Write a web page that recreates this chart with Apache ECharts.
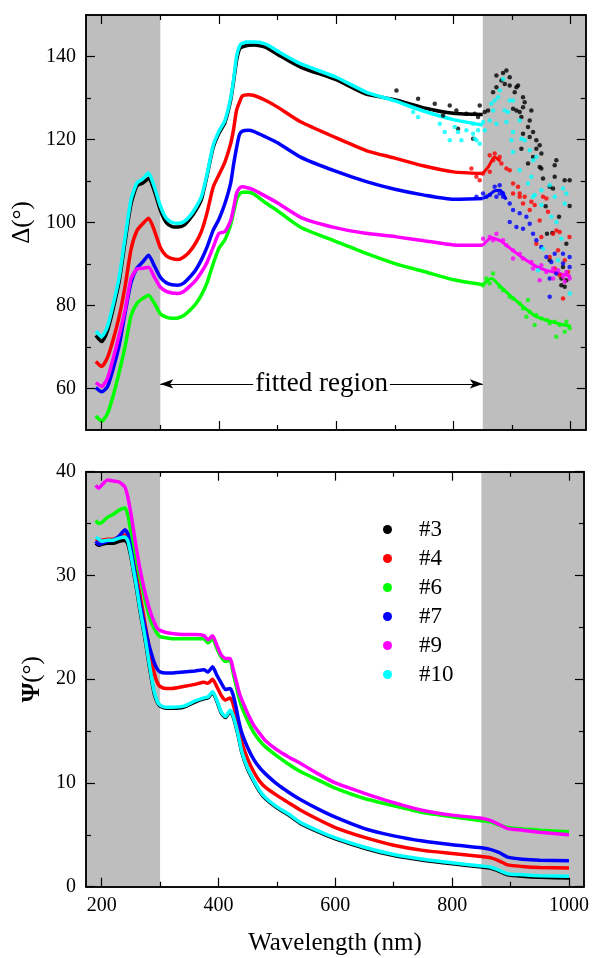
<!DOCTYPE html>
<html>
<head>
<meta charset="utf-8">
<script src="https://cdn.jsdelivr.net/npm/echarts@6/dist/echarts.min.js"></script>
<style>
html, body { margin: 0; padding: 0; background: #fff; }
#chart { width: 592px; height: 958px; }
</style>
</head>
<body>
<div id="chart"></div>
<script>
// Delta / Psi spectra, two stacked panels

const FONT = 'Liberation Serif';
const X_MIN = 173.2, X_MAX = 1025.6;

const samples = ['#3', '#4', '#6', '#7', '#9', '#10'];
const colors = ['#000000', '#ff0000', '#00ff00', '#0000ff', '#ff00ff', '#00ffff'];

const xMajor = [200, 400, 600, 800, 1000];
const xMinor = [300, 500, 700, 900];
const deltaMajor = [60, 80, 100, 120, 140];
const deltaMinor = [70, 90, 110, 130];
const psiMajor = [0, 10, 20, 30, 40];
const psiMinor = [5, 15, 25, 35];

const fitStart = 300, fitEnd = 850; // fitted region limits (nm)

// top panel, Delta (deg)
const wlTop = [190,200,210,220,230,240,250,260,270,280,290,300,310,320,330,340,350,360,370,380,390,400,410,420,425,430,435,440,450,460,480,500,540,600,650,700,750,800,850];
const delta3 = [72.8,71.3,74,79.5,86,95.5,104.5,108.8,109.5,110.6,107.5,103,100,99,98.9,99.3,100.8,102.8,105.5,111.5,118,121.5,124,129.5,134,139,141.8,142.3,142.7,142.8,142.2,140.5,137.4,134.4,131,129.6,127.6,126.3,126];
const delta4 = [66.5,65.3,67.5,72,77.5,84.7,93.5,98,99.7,101,98,94,92,91.3,91.1,91.7,93,95,97.8,102.5,108.5,111.5,114.5,119,122.5,127,129,130.5,130.8,130.6,129.4,127.8,124.2,120.4,117.4,115.5,113.6,112.2,111.8];
const delta6 = [53.4,52.1,54,58.5,64,70.2,77.5,80.5,81.7,82.5,80.5,78,77.2,76.9,77,77.6,78.8,80.3,82.5,85.6,90,93.8,95.8,99.5,102.5,105.5,106.8,107.3,107.3,106.8,104.7,102.8,98.8,95.4,92.6,90.1,88.2,86.2,85];
const delta7 = [60.2,59.2,60.5,65,70.5,78.3,85.5,89,90.5,92.1,89.5,86.8,85.5,85,84.9,85.4,86.8,88.5,91,94.2,98.1,100.8,104.5,109.5,114,118,121.2,122,122.2,121.9,120.6,119.2,115.7,112.3,109.9,108,106.6,105.6,105.8];
const delta9 = [61.4,60.5,62.5,67.5,73,79,86.5,88.8,89,89.2,86.8,84.4,83.4,83,82.9,83.4,84.6,86,88,90.5,94,97.4,97.8,100.5,103.5,107,108.3,108.6,108.3,107.8,106.3,104.7,101.2,98.7,97.4,96.6,95.6,94.6,94.5];
const delta10 = [73.8,72.5,75,80.5,87,96.5,105.5,109.5,110.5,111.9,108.5,104,101,100,99.8,100.2,101.5,103.5,106.2,111.8,118.5,122,124.5,130,134.5,140,142.5,143.2,143.5,143.5,143,141.3,138.2,135,131.5,129.3,126.8,124.8,123.5];

// coherent bands continuing into the right shaded area
const tail4Wl = [850, 860, 870, 880];
const tail4 = [111.8, 113.5, 115.8, 114.8];
const tail7Wl = [850, 860, 870, 880, 890];
const tail7 = [105.8, 106.5, 107.6, 107.8, 105.5];
const tail6Wl = [850, 865, 880, 900, 920, 940, 960, 980, 1000];
const tail6 = [85, 86.5, 84.6, 82, 79.6, 77.4, 76.4, 75.6, 75];
const tail9Wl = [850, 865, 880, 900, 920, 940, 960, 980, 1000];
const tail9 = [94.5, 96.3, 95.6, 93.4, 91.3, 89.5, 88.4, 87.8, 87];

// scattered (noisy) points, long wavelength end
const noise3Wl = [702.8,739.7,768.1,782.3,793.7,805,807.9,822.1,833.5,844.8,836.3,842,853.4,859,867.6,873.3,873.3,881.8,884.6,887.5,890.3,896,896,901.7,904.5,907.4,907.4,910.2,913,915.9,915.9,918.7,918.7,918.7,921.5,927.2,927.2,930.1,930.1,932.9,935.8,935.8,941.4,941.4,947.1,947.1,950,950,952.8,957.3,959.6,964.2,964.2,968.7,969.9,972.7,972.7,975.5,980.1,984.1,984.1,986.9,989.7,989.8,992.6,992.6,998.2,998.2];
const noise3Val = [131.8,129.8,128.6,125.8,128.2,127,122.6,126.2,120.2,128.2,126.2,125.4,126.6,127,131.4,135.4,132.6,134.2,136,133.4,136.6,135,133,127.4,131.4,132.6,127,133,126.6,125.4,117.8,130.2,127.8,121.4,129,123,114.2,124.6,120.6,127,121.8,115.8,119.8,117.8,118.6,113.4,116.6,113,110.6,103.9,97.3,108.6,90.9,97.5,108.2,113.8,111,115,101.4,86.5,84.9,89.3,110.2,84.5,94.9,86.1,110.2,104];
const noise4Wl = [830.6,839.2,844.8,850.5,861.9,861.9,867.6,870.4,878.9,881.8,890.3,896,901.7,901.7,910.2,913,913,918.7,921.5,930.1,932.9,938.6,941.4,947.1,949.9,952.8,958.5,961.3,964.2,969.9,972.7,975.5,978.4,981.2,981.2,986.9,989.8,995.4,998];
const noise4Val = [113,111,110.2,111.8,112.2,116.2,115,116.6,115.8,114.2,113,112.6,109.4,107,108.6,107,106.2,104.6,106.2,103,105,104.2,94.9,100.5,96.5,106.2,105.8,102.6,91.7,97.3,88.9,98.1,93.3,97.7,87.3,81.7,90.9,88.1,96.5];
const noise6Wl = [850.5,856.2,861.9,867.6,878.9,884.6,896,901.7,913,918.7,924.4,927.2,930.1,938.6,941.4,949.9,958.5,964.2,972.7,975.5,981.2,989.8,992.6,998.3];
const noise6Val = [84.9,86.5,85.3,87.7,84.5,83.7,82.1,81.7,80.5,79.3,77.3,81.3,78.5,75.3,77.7,76.9,76.5,75.7,76.1,72.5,75.3,73.7,76.1,74.5];
const noise7Wl = [839.2,850.5,856.2,861.9,870.4,873.3,878.9,878.9,884.6,884.6,896,896,901.7,907.4,913,918.7,924.4,930.1,935.8,941.4,949.9,958.5,964.2,964.2,967,972.7,975.5,986.9,986.9,998.2,998.2];
const noise7Val = [106.2,107,106.2,106.6,108.6,106.2,109,107,107,106.2,104.6,100.1,103,98.9,102.2,98.5,101.4,99.7,97.3,95.7,94.1,91.7,86.5,82.1,90.5,92.5,87.7,92.5,90.1,91.7,89.3];
const noise9Wl = [850.5,861.9,867.6,873.3,884.6,890.3,901.7,901.7,913,918.7,932.9,935.8,947.1,949.9,958.5,969.9,969.9,978.4,986.9,989.8,992.6,998.2];
const noise9Val = [96.1,96.5,95.7,97.3,95.7,94.5,93.3,91.3,92.5,91.3,90.5,88.9,86.1,89.7,88.1,88.9,86.5,88.5,86.9,85.7,88.1,86.5];
const noise10Wl = [731.2,739.7,776.7,785.2,793.7,802.2,807.9,813.6,822.1,833.5,839.2,844.8,833.5,836.3,842,850.5,853.4,861.9,864.7,867.6,870.4,873.3,876.1,879,884.6,887.5,890.3,893.1,896,898.9,901.7,901.7,901.7,913,913,915.9,921.5,927.2,930.1,932.9,935.8,935.8,938.5,941.4,944.3,950,950,952.8,964.2,967,972.7,975.5,978.4,984.1,986.9,989.8,992.6,998.3];
const noise10Val = [126.6,125.4,123.8,121.8,119.8,123,121.8,119.8,122.2,121.4,119.8,119,123.8,120.2,122.2,124.2,122.2,124.6,128.6,127,129.4,123.8,130.2,131.8,134.6,127,124.2,126.6,129.4,119.8,129.4,121.8,117,124.6,112.6,120.2,119.8,109.4,117.4,111,115,106.2,106.6,115.8,88.5,107.8,104.2,93.7,109,101.4,106.2,100.1,90.9,96.1,108.2,104.6,107,82.9];

// bottom panel, Psi (deg)
const wlBot = [190,195,200,210,220,230,240,245,250,255,260,265,270,275,280,285,290,295,300,310,320,340,360,375,382,390,397,405,412,420,425,430,435,440,450,460,470,480,500,520,540,570,600,650,700,750,800,850,865,880,895,920,950,1000];
const psi3 = [33.1,32.9,33.0,33.1,33.1,33.3,33.4,33.0,31.8,30.2,28.6,26.8,25.2,23.6,21.8,20.1,18.6,17.8,17.4,17.2,17.2,17.3,17.8,18.1,18.2,18.7,17.9,16.7,16.3,16.9,16.4,15.4,14.2,12.9,11.3,10.2,9.2,8.5,7.6,6.9,6.1,5.3,4.6,3.7,3.0,2.55,2.2,1.9,1.8,1.5,1.15,1.0,0.9,0.85];
const psi4 = [33.5,33.4,33.4,33.5,33.5,33.7,33.9,33.6,32.5,31.2,29.8,28.3,26.7,25.1,23.5,21.9,20.6,19.7,19.3,19.1,19.1,19.3,19.5,19.7,19.6,20.0,19.3,18.4,18.0,18.2,17.6,16.5,15.2,13.9,12.3,11.1,10.2,9.6,8.8,8.1,7.4,6.5,5.7,4.75,4.0,3.5,3.2,2.9,2.8,2.5,2.1,1.95,1.85,1.8];
const psi6 = [35.3,35.0,35.1,35.6,35.9,36.3,36.5,35.8,34.2,32.7,31.4,30.0,28.8,27.5,26.4,25.5,24.9,24.4,24.1,24.0,23.9,23.9,23.9,23.9,23.5,23.9,23.0,22.1,21.7,21.8,20.6,19.4,18.2,17.3,16.0,14.9,14.1,13.5,12.6,11.8,11.1,10.3,9.5,8.5,7.8,7.15,6.75,6.35,6.25,5.95,5.7,5.55,5.45,5.3];
const psi7 = [33.3,33.0,33.1,33.3,33.4,33.8,34.4,34.0,32.6,30.9,29.2,27.6,26.1,24.8,23.5,22.5,21.6,21.0,20.7,20.6,20.6,20.7,20.8,20.9,20.7,21.2,20.4,19.6,19.0,19.1,18.5,17.3,15.9,14.8,13.4,12.3,11.5,10.9,9.9,9.1,8.4,7.5,6.7,5.6,4.9,4.4,4.05,3.75,3.6,3.3,2.85,2.65,2.55,2.5];
const psi9 = [38.7,38.4,38.7,39.2,39.1,39.0,38.5,37.5,36.0,34.2,32.4,30.8,29.4,28.2,27.1,26.2,25.5,24.9,24.7,24.5,24.4,24.3,24.3,24.2,23.8,24.2,23.3,22.3,22.0,22.0,21.0,19.9,18.8,18.0,16.7,15.6,14.8,14.1,13.2,12.5,11.9,10.9,10.0,9.0,8.1,7.35,6.9,6.6,6.4,6.0,5.6,5.45,5.25,5.0];
const psi10 = [33.7,33.5,33.3,33.4,33.4,33.6,33.7,33.3,32.0,30.4,28.8,27.0,25.4,23.8,22.0,20.3,18.8,17.9,17.5,17.3,17.3,17.4,17.9,18.2,18.3,18.8,18.0,16.8,16.4,17.0,16.5,15.5,14.3,13.0,11.4,10.3,9.3,8.6,7.7,7.0,6.2,5.4,4.7,3.8,3.1,2.65,2.3,2.0,1.9,1.6,1.25,1.15,1.05,1.0];

const deltaSets = [delta3, delta4, delta6, delta7, delta9, delta10];
const tailWl = [null, tail4Wl, tail6Wl, tail7Wl, tail9Wl, null];
const tailVal = [null, tail4, tail6, tail7, tail9, null];
const noiseWl = [noise3Wl, noise4Wl, noise6Wl, noise7Wl, noise9Wl, noise10Wl];
const noiseVal = [noise3Val, noise4Val, noise6Val, noise7Val, noise9Val, noise10Val];
const psiSets = [psi3, psi4, psi6, psi7, psi9, psi10];

const chart = echarts.init(document.getElementById('chart'));

function pairs(xs, ys) {
    return xs.map((x, i) => [x, ys[i]]);
}

const frameLine = { show: true, onZero: false, lineStyle: { color: '#000', width: 1.5 } };

function xAx(grid, pos, ticks, len, showLabel, name) {
    return {
        type: 'value', gridIndex: grid, position: pos, min: X_MIN, max: X_MAX, z: 10,
        axisLine: frameLine,
        axisTick: { show: true, inside: true, length: len, customValues: ticks, lineStyle: { color: '#000', width: 1.2 } },
        axisLabel: {
            show: showLabel, customValues: ticks, margin: 9, color: '#000', fontFamily: FONT, fontSize: 20,
            formatter: (v) => String(v)
        },
        splitLine: { show: false },
        name: name || '', nameLocation: 'middle', nameGap: 44,
        nameTextStyle: { color: '#000', fontFamily: FONT, fontSize: 25 }
    };
}

function yAx(grid, pos, ticks, len, showLabel, min, max, name, gap) {
    return {
        type: 'value', gridIndex: grid, position: pos, min: min, max: max, z: 10,
        axisLine: frameLine,
        axisTick: { show: true, inside: true, length: len, customValues: ticks, lineStyle: { color: '#000', width: 1.2 } },
        axisLabel: {
            show: showLabel, customValues: ticks, margin: 10, color: '#000', fontFamily: FONT, fontSize: 20,
            formatter: (v) => String(v)
        },
        splitLine: { show: false },
        name: name || '', nameLocation: 'middle', nameGap: gap || 40,
        nameTextStyle: {
            color: '#000', fontFamily: FONT, fontSize: 25,
            rich: { b: { fontFamily: FONT, fontSize: 25, fontWeight: 'bold', color: '#000' } }
        }
    };
}

const xAxes = [
    xAx(0, 'bottom', xMajor, 9, false), xAx(0, 'bottom', xMinor, 5, false),
    xAx(0, 'top', xMajor, 9, false), xAx(0, 'top', xMinor, 5, false),
    xAx(1, 'bottom', xMajor, 9, true, 'Wavelength (nm)'), xAx(1, 'bottom', xMinor, 5, false),
    xAx(1, 'top', xMajor, 9, false), xAx(1, 'top', xMinor, 5, false)
];
const yAxes = [
    yAx(0, 'left', deltaMajor, 9, true, 50, 150, 'Δ(°)', 41), yAx(0, 'left', deltaMinor, 5, false, 50, 150),
    yAx(0, 'right', deltaMajor, 9, false, 50, 150), yAx(0, 'right', deltaMinor, 5, false, 50, 150),
    yAx(1, 'left', psiMajor, 9, true, 0, 40, '{b|Ψ}(°)', 32), yAx(1, 'left', psiMinor, 5, false, 0, 40),
    yAx(1, 'right', psiMajor, 9, false, 0, 40), yAx(1, 'right', psiMinor, 5, false, 0, 40)
];

function shade(axisIdx) {
    return {
        type: 'line', xAxisIndex: axisIdx, yAxisIndex: axisIdx, data: [], silent: true, z: 1,
        markArea: {
            silent: true,
            itemStyle: { color: '#bebebe' },
            data: [
                [{ xAxis: X_MIN }, { xAxis: fitStart }],
                [{ xAxis: fitEnd }, { xAxis: X_MAX }]
            ]
        }
    };
}

const series = [];
const topShade = shade(0);
topShade.markLine = {
    silent: true,
    symbol: ['arrow', 'arrow'],
    symbolSize: [7, 13],
    lineStyle: { color: '#000', width: 1, type: 'solid' },
    label: { show: false },
    data: [[{ coord: [fitStart, 61.1] }, { coord: [fitEnd, 61.1] }]]
};
topShade.markPoint = {
    silent: true,
    symbol: 'rect',
    symbolSize: 0,
    label: {
        show: true, position: 'inside', formatter: 'fitted region',
        color: '#000', fontFamily: FONT, fontSize: 27,
        backgroundColor: '#fff', padding: [0, 2]
    },
    data: [{ coord: [(fitStart + fitEnd) / 2, 61.1] }]
};
series.push(topShade);
series.push(shade(4));

samples.forEach((name, k) => {
    const c = colors[k];
    series.push({
        name: name, type: 'line', xAxisIndex: 0, yAxisIndex: 0, z: 3,
        data: pairs(wlTop, deltaSets[k]),
        smooth: 0.2, showSymbol: false, symbol: 'circle',
        itemStyle: { color: c }, lineStyle: { color: c, width: 3.5 }
    });
    if (tailWl[k]) {
        series.push({
            name: name, type: 'line', xAxisIndex: 0, yAxisIndex: 0, z: 3,
            data: pairs(tailWl[k], tailVal[k]),
            smooth: 0.2, showSymbol: false, symbol: 'circle',
            itemStyle: { color: c }, lineStyle: { color: c, width: 3 }
        });
    }
    series.push({
        name: name, type: 'scatter', xAxisIndex: 0, yAxisIndex: 0, z: 3,
        data: pairs(noiseWl[k], noiseVal[k]),
        symbol: 'circle', symbolSize: 4.5,
        itemStyle: { color: c }
    });
    series.push({
        name: name, type: 'line', xAxisIndex: 4, yAxisIndex: 4, z: 3,
        data: pairs(wlBot, psiSets[k]),
        smooth: 0.2, showSymbol: false, symbol: 'circle',
        itemStyle: { color: c }, lineStyle: { color: c, width: 3.5 }
    });
});

chart.setOption({
    animation: false,
    backgroundColor: '#fff',
    grid: [
        { left: 86, top: 15, width: 499.7, height: 415 },
        { left: 86, top: 471.7, width: 499.7, height: 415 }
    ],
    legend: {
        orient: 'vertical', left: 378, top: 513,
        itemWidth: 9, itemHeight: 9, itemGap: 6,
        icon: 'circle',
        selectedMode: false,
        textStyle: { color: '#000', fontFamily: FONT, fontSize: 23, padding: [0, 0, 0, 22] },
        data: samples
    },
    xAxis: xAxes,
    yAxis: yAxes,
    series: series
});
</script>
</body>
</html>
